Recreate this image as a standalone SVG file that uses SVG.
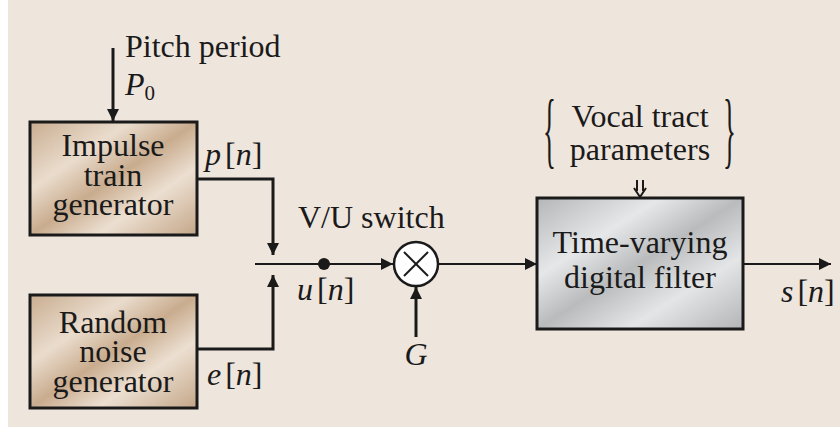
<svg xmlns="http://www.w3.org/2000/svg" width="840" height="427" viewBox="0 0 840 427">
<defs>
<linearGradient id="gBrown" x1="0" y1="0" x2="1" y2="1">
<stop offset="0" stop-color="#c9ad90"/>
<stop offset="0.3" stop-color="#eadccd"/>
<stop offset="0.5" stop-color="#c9ac8e"/>
<stop offset="0.7" stop-color="#ecdfd1"/>
<stop offset="1" stop-color="#c4a688"/>
</linearGradient>
<linearGradient id="gGray" x1="0" y1="0" x2="1" y2="1">
<stop offset="0" stop-color="#b4b6b8"/>
<stop offset="0.3" stop-color="#e6e7e8"/>
<stop offset="0.5" stop-color="#b9bbbd"/>
<stop offset="0.72" stop-color="#e4e5e6"/>
<stop offset="1" stop-color="#b2b4b6"/>
</linearGradient>
<marker id="ah" viewBox="0 0 10 10" refX="10" refY="5" markerWidth="12" markerHeight="12" markerUnits="userSpaceOnUse" orient="auto">
<path d="M0,0 L10,5 L0,10 Z" fill="#1a1a1a"/>
</marker>
</defs>
<style>
.box{stroke:#1a1a1a;stroke-width:3}
.t{font-family:"Liberation Serif","Times New Roman",serif;font-size:32px;fill:#1a1a1a}
.tc{text-anchor:middle}
.i{font-style:italic}
.br{font-size:84px}
.ln{fill:none;stroke:#1a1a1a;stroke-width:3}
.thin{fill:none;stroke:#1a1a1a;stroke-width:2}
</style>
<rect x="8" y="0" width="832" height="427" fill="#eee5dc"/>

<g id="connectors">
<line class="ln" x1="113" y1="48" x2="113" y2="121" marker-end="url(#ah)"/>
<polyline class="ln" points="197,179 273,179 273,255" marker-end="url(#ah)"/>
<polyline class="ln" points="197,349 273,349 273,275" marker-end="url(#ah)"/>
<line class="thin" x1="255" y1="264" x2="393" y2="264" marker-end="url(#ah)"/>
<circle cx="324" cy="264" r="6" fill="#1a1a1a"/>
<line class="ln" x1="416" y1="337" x2="416" y2="287" marker-end="url(#ah)"/>
<line class="thin" x1="439" y1="264" x2="537" y2="264" marker-end="url(#ah)"/>
<line class="thin" x1="744" y1="264" x2="831" y2="264" marker-end="url(#ah)"/>
<line class="thin" x1="637" y1="180" x2="637" y2="191"/>
<line class="thin" x1="643" y1="180" x2="643" y2="191"/>
<polyline class="thin" points="634,188 640,197 646,188"/>
</g>

<g id="pitch">
<text class="t" x="125" y="57">Pitch period</text>
<text class="t i" x="125" y="95">P<tspan font-style="normal" style="font-size:21px" dy="5">0</tspan></text>
</g>

<g id="impulse">
<rect class="box" x="30" y="122" width="167" height="113" fill="url(#gBrown)"/>
<text class="t tc" x="113" y="156">Impulse</text>
<text class="t tc" x="113" y="186">train</text>
<text class="t tc" x="113" y="215">generator</text>
<text class="t" x="205" y="165"><tspan class="i">p</tspan><tspan dx="4">[</tspan><tspan class="i">n</tspan>]</text>
</g>

<g id="random">
<rect class="box" x="30" y="295" width="167" height="113" fill="url(#gBrown)"/>
<text class="t tc" x="113" y="333">Random</text>
<text class="t tc" x="113" y="362">noise</text>
<text class="t tc" x="113" y="392">generator</text>
<text class="t" x="207" y="385"><tspan class="i">e</tspan><tspan dx="4">[</tspan><tspan class="i">n</tspan>]</text>
</g>

<g id="junction">
<text class="t" x="298" y="228">V/U switch</text>
<text class="t" x="297" y="300"><tspan class="i">u</tspan><tspan dx="4">[</tspan><tspan class="i">n</tspan>]</text>
</g>

<g id="multiplier">
<circle cx="416" cy="264" r="22" fill="#ffffff" stroke="#1a1a1a" stroke-width="2.5"/>
<line class="thin" x1="404" y1="252" x2="428" y2="276"/>
<line class="thin" x1="428" y1="252" x2="404" y2="276"/>
<text class="t i tc" x="416" y="365">G</text>
</g>

<g id="vocal">
<text class="t br" transform="translate(543,158) scale(0.32,1)">{</text>
<text class="t br" transform="translate(723,158) scale(0.32,1)">}</text>
<text class="t tc" x="640" y="127">Vocal tract</text>
<text class="t tc" x="640" y="160">parameters</text>
</g>

<g id="filter">
<rect class="box" x="537" y="198" width="206" height="131" fill="url(#gGray)"/>
<text class="t tc" x="640" y="253">Time-varying</text>
<text class="t tc" x="640" y="288">digital filter</text>
<text class="t" x="781" y="302"><tspan class="i">s</tspan><tspan dx="4">[</tspan><tspan class="i">n</tspan>]</text>
</g>
</svg>
